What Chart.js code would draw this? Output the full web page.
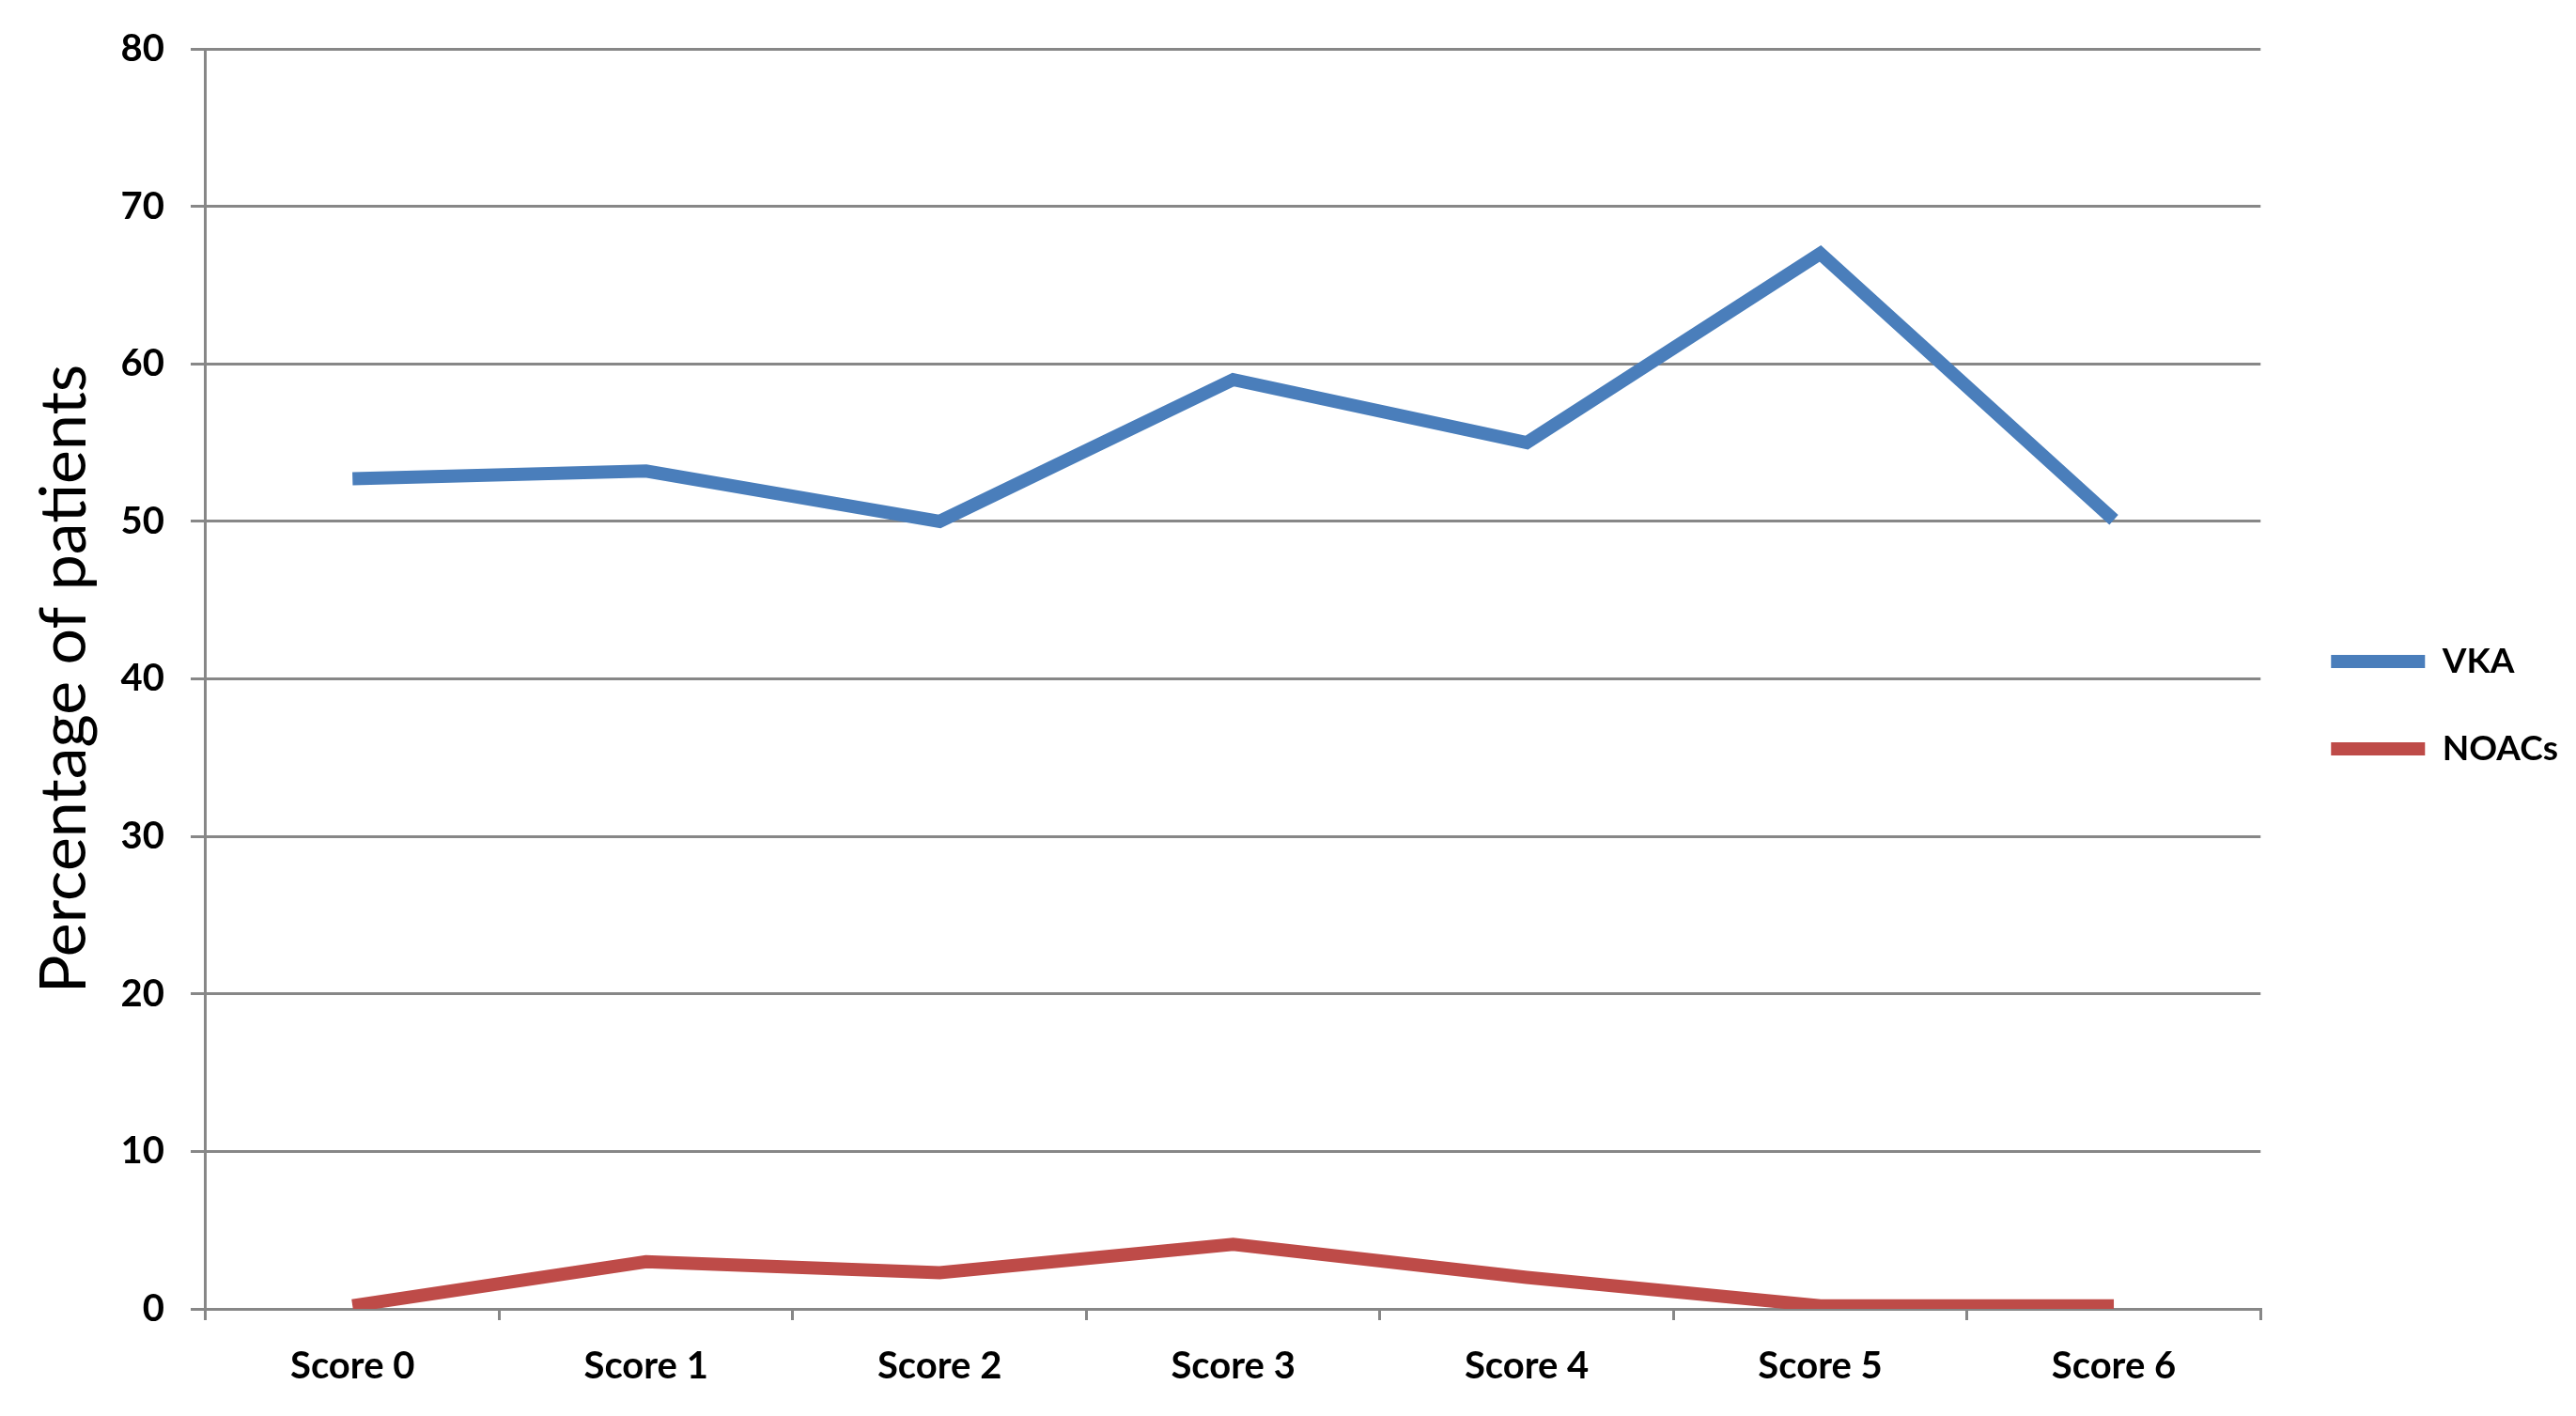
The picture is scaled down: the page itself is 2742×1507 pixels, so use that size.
<!DOCTYPE html>
<html>
<head>
<meta charset="utf-8">
<script src="https://cdn.jsdelivr.net/npm/chart.js@4.4.1/dist/chart.umd.min.js"></script>
<style>
  html, body { margin: 0; padding: 0; background: #fff; }
  #wrap { width: 2742px; height: 1507px; }
</style>
</head>
<body>
<div id="wrap"><canvas id="scoreChart"></canvas></div>
<script>
// ---------- Data ----------
const categories = ["Score 0", "Score 1", "Score 2", "Score 3", "Score 4", "Score 5", "Score 6"];
const vkaValues = [52.7, 53.2, 50.0, 59.0, 55.0, 67.0, 50.1];
const noacValues = [0.2, 3.0, 2.3, 4.1, 2.0, 0.2, 0.2];
const yTicks = [0, 10, 20, 30, 40, 50, 60, 70, 80];

const gridGray = "#878787";
const fontFamily = "Lato, 'Open Sans', sans-serif";

// push the legend a little further from the plot, like the original
const nudgeLegend = {
  id: "nudgeLegend",
  afterLayout(chart) {
    chart.legend.left += 19;
    chart.legend.right += 19;
  }
};

// ---------- Chart ----------
new Chart(document.getElementById("scoreChart"), {
  type: "line",
  data: {
    labels: categories,
    datasets: [
      {
        label: "VKA",
        data: vkaValues,
        borderColor: "#4a7ebb",
        backgroundColor: "#4a7ebb",
        borderWidth: 14,
        pointRadius: 0,
        pointStyle: "line",
        tension: 0
      },
      {
        label: "NOACs",
        data: noacValues,
        borderColor: "#be4b48",
        backgroundColor: "#be4b48",
        borderWidth: 14,
        pointRadius: 0,
        pointStyle: "line",
        tension: 0
      }
    ]
  },
  options: {
    responsive: true,
    maintainAspectRatio: false,
    animation: false,
    layout: { padding: { top: 50, left: 28, right: 28, bottom: 4 } },
    plugins: {
      tooltip: { enabled: false },
      legend: {
        position: "right",
        fullSize: false,
        // blank title only nudges the items down a bit
        title: { display: true, text: " ", padding: 16, font: { size: 20 } },
        labels: {
          usePointStyle: true,
          pointStyleWidth: 100,
          padding: 56,
          color: "#000",
          font: { family: fontFamily, size: 37, weight: "bold" }
        }
      }
    },
    scales: {
      x: {
        offset: true,
        grid: {
          offset: true,
          drawOnChartArea: false,
          color: gridGray,
          lineWidth: 3,
          tickLength: 12
        },
        border: { color: gridGray, width: 3 },
        ticks: {
          color: "#000",
          padding: 25,
          maxRotation: 0,
          font: { family: fontFamily, size: 40, weight: "bold" }
        }
      },
      y: {
        min: 0,
        max: 80,
        afterBuildTicks: axis => { axis.ticks = yTicks.map(v => ({ value: v })); },
        grid: { color: gridGray, lineWidth: 3, tickLength: 16 },
        border: { color: gridGray, width: 3 },
        ticks: {
          color: "#000",
          padding: 28,
          font: { family: fontFamily, size: 40, weight: "bold" }
        },
        title: {
          display: true,
          text: "Percentage of patients",
          color: "#000",
          padding: { top: 0, bottom: -9 },
          font: { family: fontFamily, size: 68 }
        }
      }
    }
  },
  plugins: [nudgeLegend]
});
</script>
</body>
</html>
